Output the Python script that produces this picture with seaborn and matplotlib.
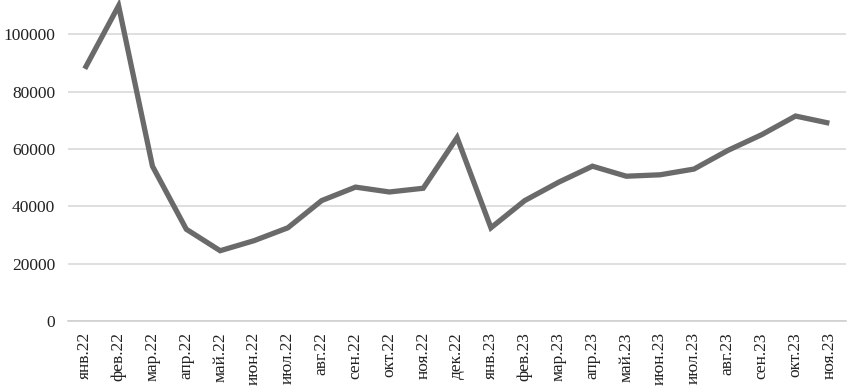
import numpy as np
import pandas as pd
import matplotlib
matplotlib.use("Agg")
import matplotlib.pyplot as plt
import seaborn as sns

months = ["янв.22", "фев.22", "мар.22", "апр.22", "май.22", "июн.22", "июл.22",
          "авг.22", "сен.22", "окт.22", "ноя.22", "дек.22",
          "янв.23", "фев.23", "мар.23", "апр.23", "май.23", "июн.23", "июл.23",
          "авг.23", "сен.23", "окт.23", "ноя.23"]
values = [88000, 110000, 54000, 32000, 24500, 28000, 32500,
          42000, 46700, 45000, 46300, 64000,
          32500, 42000, 48400, 54000, 50500, 51000, 53000,
          59500, 65000, 71500, 69000]
yticks = [0, 20000, 40000, 60000, 80000, 100000]

df = pd.DataFrame({"month": months, "value": values})

sns.set_style("white")
plt.rcParams['font.family'] = ['Liberation Serif', 'DejaVu Serif']

fig = plt.figure(figsize=(8.48, 3.89), dpi=100)
ax = fig.add_axes([0.080, 0.175, 0.918, 0.825])

sns.lineplot(data=df, x="month", y="value", sort=False, ax=ax,
             color="#6a6a6a", linewidth=3.8, solid_joinstyle="miter",
             solid_capstyle="butt", clip_on=False)

ax.set_xlim(-0.5, len(months) - 0.5)
ax.set_ylim(0, 112000)
ax.set_yticks(yticks)
ax.set_yticklabels([str(v) for v in yticks], fontsize=12.5, color="#222222")
ax.yaxis.grid(True, color="#d9d9d9", linewidth=1.2)
ax.set_axisbelow(True)
ax.tick_params(axis="y", length=0, pad=9)

ax.set_xticks(range(len(months)))
ax.set_xticklabels(months, rotation=90, fontsize=12.5, color="#222222")
ax.tick_params(axis="x", which="major", length=0, pad=8)
ax.set_xticks(np.arange(-0.5, len(months)), minor=True)
ax.tick_params(axis="x", which="minor", length=5, color="#d0d0d0", width=1.2)

for s in ["top", "right", "left"]:
    ax.spines[s].set_visible(False)
ax.spines["bottom"].set_color("#d0d0d0")
ax.spines["bottom"].set_linewidth(1.2)
ax.set_xlabel("")
ax.set_ylabel("")

fig.savefig("out.png", dpi=100)
